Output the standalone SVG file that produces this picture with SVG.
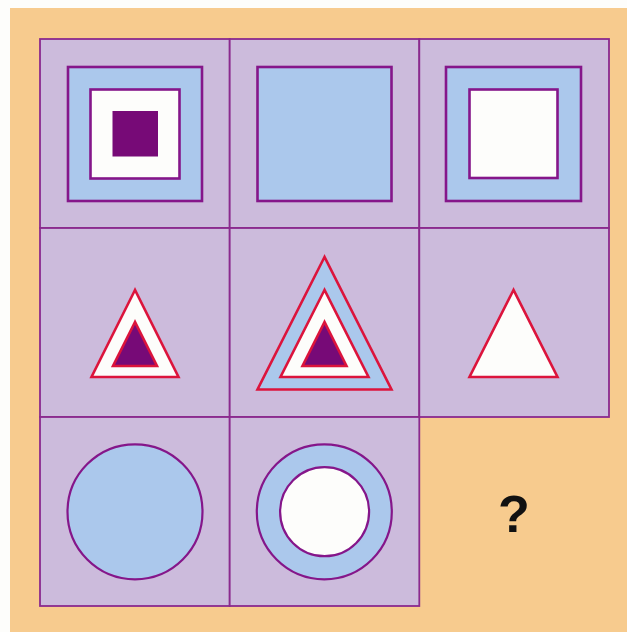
<svg xmlns="http://www.w3.org/2000/svg" width="627" height="632" viewBox="0 0 627 632">
<style>
.cell{fill:#CCBBDC;stroke:#8A2A8E;stroke-width:1.8}
.sq{stroke:#85168A;stroke-width:2.6}
.tri{stroke:#DC143C;stroke-width:2.6;stroke-linejoin:miter}
.cir{stroke:#85168A;stroke-width:2.2}
.blue{fill:#ABC8EC}
.white{fill:#FDFDFB}
.dark{fill:#770A77}
.q{font-family:"Liberation Sans",Arial,sans-serif;font-weight:bold;font-size:52px;fill:#111}
</style>
<rect x="0" y="0" width="627" height="632" fill="#FDFDFB"/>
<rect x="10" y="8" width="617" height="624" fill="#F7CB8E"/>
<g id="cell-1-1">
<rect class="cell" x="40" y="39" width="189.7" height="189"/>
<rect class="sq blue" x="68" y="67" width="134" height="134"/>
<rect class="sq white" x="90.5" y="89.5" width="89" height="89"/>
<rect class="dark" x="112.5" y="111" width="45.5" height="45.5"/>
</g>
<g id="cell-1-2">
<rect class="cell" x="229.7" y="39" width="189.6" height="189"/>
<rect class="sq blue" x="257.5" y="67" width="134" height="134"/>
</g>
<g id="cell-1-3">
<rect class="cell" x="419.3" y="39" width="189.7" height="189"/>
<rect class="sq blue" x="446" y="67" width="135" height="134"/>
<rect class="sq white" x="469.5" y="89.5" width="88" height="88.5"/>
</g>
<g id="cell-2-1">
<rect class="cell" x="40" y="228" width="189.7" height="189"/>
<polygon class="tri white" points="135,290 91.5,377 178.5,377"/>
<polygon class="tri dark" points="135,322 113,366 157,366"/>
</g>
<g id="cell-2-2">
<rect class="cell" x="229.7" y="228" width="189.6" height="189"/>
<polygon class="tri blue" points="324.5,257 257.5,389.5 391.5,389.5"/>
<polygon class="tri white" points="324.5,290 280.5,377 368.5,377"/>
<polygon class="tri dark" points="324.5,322 302.5,366 346.5,366"/>
</g>
<g id="cell-2-3">
<rect class="cell" x="419.3" y="228" width="189.7" height="189"/>
<polygon class="tri white" points="513.5,290 469.5,377 557.5,377"/>
</g>
<g id="cell-3-1">
<rect class="cell" x="40" y="417" width="189.7" height="189"/>
<circle class="cir blue" cx="135" cy="511.8" r="67.5"/>
</g>
<g id="cell-3-2">
<rect class="cell" x="229.7" y="417" width="189.6" height="189"/>
<circle class="cir blue" cx="324.3" cy="511.8" r="67.5"/>
<circle class="cir white" cx="324.6" cy="511.7" r="44.5"/>
</g>
<g id="cell-3-3">
<text class="q" x="514" y="532" text-anchor="middle">?</text>
</g>
</svg>
